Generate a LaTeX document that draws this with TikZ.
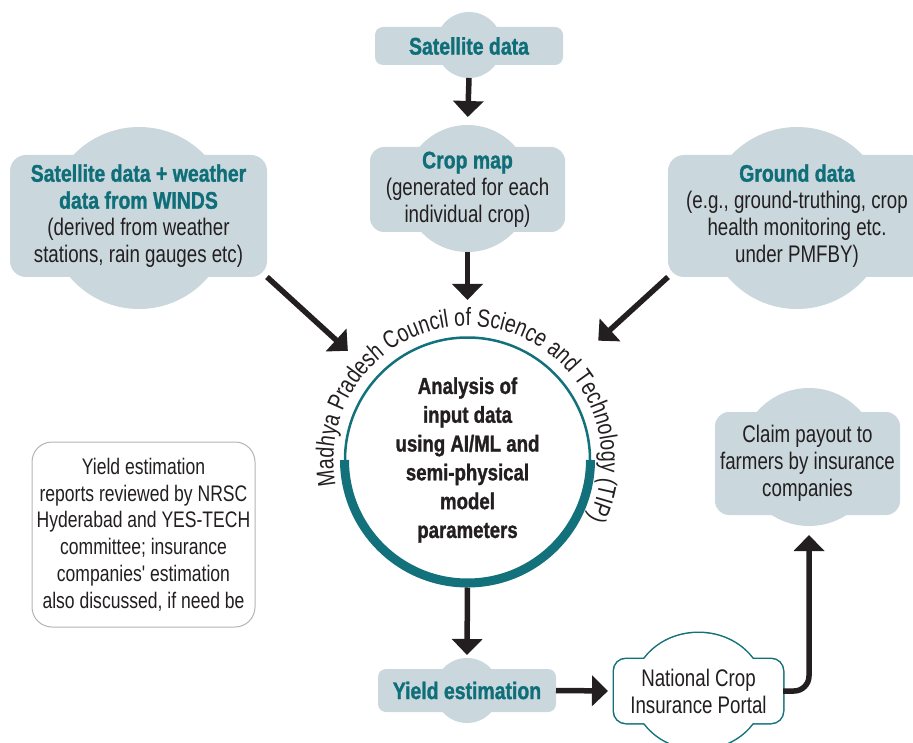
\documentclass[tikz,border=0pt]{standalone}
\usepackage{fontspec}
\setmainfont{Liberation Sans}
\newfontfamily\grundschrift{Liberation Sans}[FakeStretch=0.78]
\newfontfamily\kopfschrift{Liberation Sans Bold}[FakeStretch=0.81,FakeBold=1.2]
\usetikzlibrary{arrows.meta,decorations.text}
\definecolor{wolke}{HTML}{CAD8DE}
\definecolor{petrol}{HTML}{0F6E78}
\definecolor{ring}{HTML}{13717B}
\definecolor{tinte}{HTML}{231F20}
\definecolor{rahmen}{HTML}{B4B4B4}
\newcommand{\kopf}[1]{{\kopfschrift\color{petrol}#1}}
\newcommand{\bogenschrift}{\grundschrift\fontsize{25}{25}\selectfont\color{tinte}}
\begin{document}
\begin{tikzpicture}[x=1pt,y=1pt,line join=round,
  buckel/.style={circle,fill=wolke,inner sep=0pt,outer sep=0pt},
  wolke/.style={fill=wolke,rounded corners=14pt,inner sep=0pt,outer sep=0pt,align=center,
    text=tinte,font=\grundschrift\fontsize{24}{27}\selectfont},
  pfeil/.style={draw=tinte,line width=5.5pt,-{Triangle[width=30pt,length=16pt]}}]
\useasboundingbox (0,0) rectangle (913,-743);
% Eingangsdaten oben
\node[buckel,minimum size=66pt] (satB) at (469,-45) {};
\node[wolke,minimum width=188pt,minimum height=38pt,rounded corners=8pt] (sat) at (469,-46) {\kopf{Satellite data}};
\node[buckel,minimum size=127pt] (cropB) at (467.5,-188.5) {};
\node[wolke,minimum width=195pt,minimum height=85pt] (crop) at (467.5,-189.5)
  {\kopf{Crop map}\\(generated for each\\individual crop)};
\node[buckel,minimum size=182pt] (windB) at (139,-218) {};
\node[wolke,minimum width=257pt,minimum height=122pt,rounded corners=16pt] (wind) at (138.5,-216)
  {\kopf{Satellite data + weather}\\\kopf{data from WINDS}\\(derived from weather\\stations, rain gauges etc)};
\node[buckel,minimum size=182pt] (grndB) at (797,-218) {};
\node[wolke,minimum width=258pt,minimum height=122pt,rounded corners=16pt] (grnd) at (797,-216)
  {\kopf{Ground data}\\(e.g., ground-truthing, crop\\health monitoring etc.\\under PMFBY)};
% Analyse im Ring, Beschriftung entlang des Bogens
\node[circle,draw=ring,line width=2.5pt,minimum size=245pt,inner sep=0pt,outer sep=0pt,align=center,
  text=tinte,font=\kopfschrift\fontsize{23}{28.8}\selectfont] (ana) at (467.5,-460)
  {Analysis of\\input data\\using AI/ML and\\semi-physical\\model\\parameters};
\draw[ring,line width=9pt] (ana.center) ++(180:123) arc[start angle=180,end angle=360,radius=123];
\path[decorate,decoration={text along path,text align=center,
  text={|\bogenschrift|Madhya Pradesh Council of Science and Technology (TIP)}}]
  (ana.center) ++(190:134) arc[start angle=190,end angle=-25,radius=134];
% Ergebnisse unten
\node[wolke,fill=white,draw=rahmen,line width=1pt,rounded corners=20pt,minimum width=223pt,minimum height=185pt,
  font=\grundschrift\fontsize{22.5}{26.8}\selectfont] (review) at (143.5,-534.5)
  {Yield estimation\\reports reviewed by NRSC\\Hyderabad and YES-TECH\\committee; insurance\\companies' estimation\\also discussed, if need be};
\node[buckel,minimum size=65pt] (yldB) at (467,-690.5) {};
\node[wolke,minimum width=178pt,minimum height=43pt,rounded corners=8pt] (yld) at (467,-690.5) {\kopf{Yield estimation}};
\path[draw=ring,line width=3pt] (698.5,-691) ellipse[x radius=65,y radius=58];
\path[draw=ring,line width=3pt,rounded corners=12pt] (614,-659) rectangle (783,-723);
\fill[white] (698.5,-691) ellipse[x radius=65,y radius=58];
\fill[white,rounded corners=12pt] (614,-659) rectangle (783,-723);
\node[wolke,fill=none,minimum width=169pt,minimum height=64pt] (portal) at (698.5,-691) {National Crop\\Insurance Portal};
\node[buckel,minimum size=138pt] (claimB) at (809,-457) {};
\node[wolke,minimum width=185pt,minimum height=103pt] (claim) at (807.5,-463.5)
  {Claim payout to\\farmers by insurance\\companies};
% Pfeile
\draw[pfeil,shorten >=8pt] (satB.south) -- (cropB.north);
\draw[pfeil,shorten >=37.5pt] (cropB.south) -- (ana.north);
\draw[pfeil,shorten >=39.5pt] (wind.south east) -- (ana);
\draw[pfeil,shorten >=54.5pt] (grnd.south west) -- (ana);
\draw[pfeil,shorten <=5pt,shorten >=3pt] (ana.south) -- (yldB.north);
\draw[pfeil,shorten >=6pt] (yld.east) -- (portal.west);
\draw[pfeil,rounded corners=15pt,shorten >=9pt] (portal.east) -| (claimB.south);
\end{tikzpicture}
\end{document}
